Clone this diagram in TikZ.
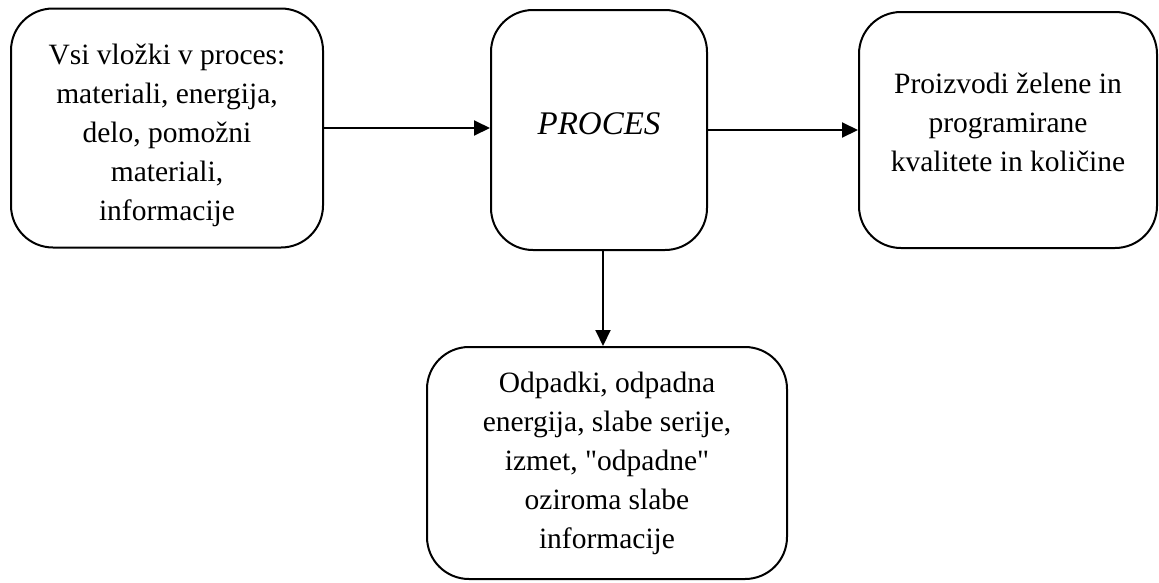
\documentclass[tikz,border=0pt]{standalone}
\usepackage{fontspec}
\setmainfont{Liberation Serif}[Ligatures=TeXOff]
\usetikzlibrary{arrows.meta}
\begin{document}
\begin{tikzpicture}[x=1pt,y=-1pt,
  boxnode/.style={draw=black, line width=2pt, rounded corners=42pt, inner sep=0pt},
  boxtext/.style={align=center, inner sep=0pt, font=\fontsize{29.5}{39}\selectfont},
  conn/.style={line width=2pt, -{Triangle[length=16pt,width=15pt]}}]
\useasboundingbox (0,0) rectangle (1159,582);
\node[boxnode, minimum width=312pt, minimum height=239pt,
  label={[boxtext, yshift=-7pt]center:{Vsi vložki v proces:\\materiali, energija,\\delo, pomožni\\materiali,\\informacije}}] (inp) at (167,128) {};
\node[boxnode, minimum width=216pt, minimum height=240pt,
  label={[boxtext, yshift=6pt, font=\fontsize{33}{39}\selectfont\itshape]center:{PROCES}}] (proc) at (599,130) {};
\node[boxnode, minimum width=298pt, minimum height=236pt,
  label={[boxtext, yshift=8pt]center:{Proizvodi želene in\\programirane\\kvalitete in količine}}] (out) at (1008,130) {};
\node[boxnode, minimum width=360pt, minimum height=232pt,
  label={[boxtext]center:{Odpadki, odpadna\\energija, slabe serije,\\izmet, "odpadne"\\oziroma slabe\\informacije}}] (waste) at (607,463) {};
\draw[conn] (inp.east) -- (inp.east -| proc.west);
\draw[conn] (proc.east) -- (out.west);
\draw[conn] ([xshift=4pt]proc.south) -- ([xshift=4pt]proc.south |- waste.north);
\end{tikzpicture}
\end{document}
